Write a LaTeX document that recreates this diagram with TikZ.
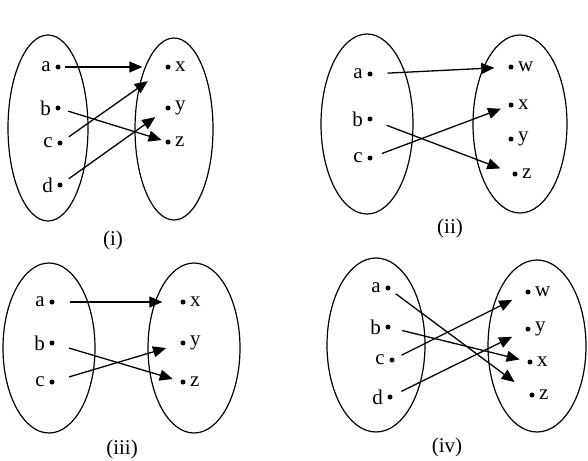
\documentclass[tikz,border=0pt]{standalone}
\usepackage{fontspec}
\setmainfont{Liberation Serif}
\usetikzlibrary{arrows.meta}

\tikzset{
  dot/.style={circle,fill,inner sep=0pt,minimum size=5pt},
  setline/.style={line width=1.2pt},
  maparrow/.style={line width=1.3pt,-{Triangle[length=13pt,width=11pt]}},
  lbl/.style={font=\fontsize{21}{24}\selectfont,label distance=1pt},
  caption/.style={font=\fontsize{21}{24}\selectfont}
}

\begin{document}
\begin{tikzpicture}[x=1pt,y=-1pt]
  \useasboundingbox (0,0) rectangle (588,460);

  % (i)
  \draw[setline] (48,128) ellipse [x radius=40pt,y radius=93pt];
  \draw[setline] (174,129) ellipse [x radius=39pt,y radius=91pt];
  \node[dot,label={[lbl]left:a}] (ia) at (58,67) {};
  \node[dot,label={[lbl]left:b}] (ib) at (58,108) {};
  \node[dot,label={[lbl]left:c}] (ic) at (60,143) {};
  \node[dot,label={[lbl]left:d}] (id) at (60,185) {};
  \node[dot,label={[lbl]right:x}] (ix) at (168,67) {};
  \node[dot,label={[lbl]right:y}] (iy) at (168,108) {};
  \node[dot,label={[lbl]right:z}] (iz) at (168,142) {};
  \draw[maparrow,shorten <=4pt,shorten >=23pt] (ia) -- (ix);
  \draw[maparrow,shorten <=8pt,shorten >=4pt] (ib) -- (iz);
  \draw[maparrow,shorten <=8pt,shorten >=22pt] (ic) -- (ix);
  \draw[maparrow,shorten <=8pt,shorten >=13pt] (id) -- (iy);
  \node[caption] (capi) at (113,240) {(i)};

  % (ii)
  \draw[setline] (367,124) ellipse [x radius=46pt,y radius=90pt];
  \draw[setline] (520,124) ellipse [x radius=47pt,y radius=89pt];
  \node[dot,label={[lbl]left:a}] (iia) at (370,74) {};
  \node[dot,label={[lbl]left:b}] (iib) at (370,119) {};
  \node[dot,label={[lbl]left:c}] (iic) at (370,158) {};
  \node[dot,label={[lbl]right:w}] (iiw) at (511,67) {};
  \node[dot,label={[lbl]right:x}] (iix) at (511,105) {};
  \node[dot,label={[lbl]right:y}] (iiy) at (511,139) {};
  \node[dot,label={[lbl]right:z}] (iiz) at (515,174) {};
  \draw[maparrow,shorten <=15pt,shorten >=14pt] (iia) -- (iiw);
  \draw[maparrow,shorten <=15pt,shorten >=13pt] (iib) -- (iiz);
  \draw[maparrow,shorten <=10pt,shorten >=8pt] (iic) -- (iix);
  \node[caption] (capii) at (450,228) {(ii)};

  % (iii)
  \draw[setline] (49,348) ellipse [x radius=46pt,y radius=85pt];
  \draw[setline] (194,348) ellipse [x radius=46pt,y radius=85pt];
  \node[dot,label={[lbl]left:a}] (iiia) at (52,302) {};
  \node[dot,label={[lbl]left:b}] (iiib) at (52,343) {};
  \node[dot,label={[lbl]left:c}] (iiic) at (52,382) {};
  \node[dot,label={[lbl]right:x}] (iiix) at (183,302) {};
  \node[dot,label={[lbl]right:y}] (iiiy) at (183,343) {};
  \node[dot,label={[lbl]right:z}] (iiiz) at (183,382) {};
  \draw[maparrow,shorten <=15pt,shorten >=18pt] (iiia) -- (iiix);
  \draw[maparrow,shorten <=15pt,shorten >=8pt] (iiib) -- (iiiz);
  \draw[maparrow,shorten <=15pt,shorten >=15pt] (iiic) -- (iiiy);
  \node[caption] (capiii) at (122,449) {(iii)};

  % (iv)
  \draw[setline] (376,345) ellipse [x radius=49pt,y radius=87pt];
  \draw[setline] (537,346) ellipse [x radius=49pt,y radius=86pt];
  \node[dot,label={[lbl]left:a}] (iva) at (388,288) {};
  \node[dot,label={[lbl]left:b}] (ivb) at (388,327) {};
  \node[dot,label={[lbl]left:c}] (ivc) at (392,360) {};
  \node[dot,label={[lbl]left:d}] (ivd) at (390,397) {};
  \node[dot,label={[lbl]right:w}] (ivw) at (528,292) {};
  \node[dot,label={[lbl]right:y}] (ivy) at (528,329) {};
  \node[dot,label={[lbl]right:x}] (ivx) at (530,362) {};
  \node[dot,label={[lbl]right:z}] (ivz) at (532,395) {};
  \draw[maparrow,shorten <=7pt,shorten >=19pt] (iva) -- (ivz);
  \draw[maparrow,shorten <=12pt,shorten >=8pt] (ivb) -- (ivx);
  \draw[maparrow,shorten <=8pt,shorten >=15pt] (ivc) -- (ivw);
  \draw[maparrow,shorten <=10pt,shorten >=15pt] (ivd) -- (ivy);
  \node[caption] (capiv) at (447,447) {(iv)};
\end{tikzpicture}
\end{document}
